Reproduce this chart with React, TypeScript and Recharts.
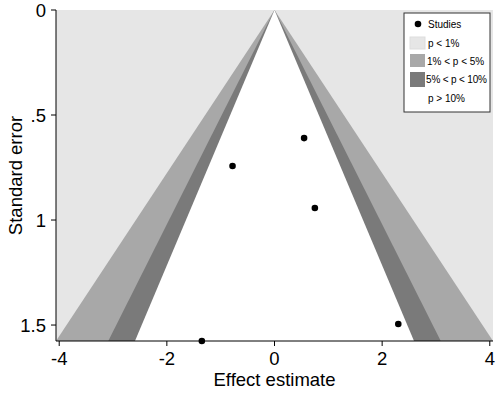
import React from "react";
import { ComposedChart, Area, Scatter, XAxis, YAxis, CartesianGrid, Label } from "recharts";

// Study estimates (effect, standard error)
const studyEffects = [0.55, -0.78, 0.75, 2.3, -1.35];
const studySE = [0.61, 0.743, 0.943, 1.495, 1.576];

// Contour significance levels (two-sided z critical values)
const contourNames = ["p < 1%", "1% < p < 5%", "5% < p < 10%"];
const contourZ = [2.576, 1.96, 1.645];
const contourColors = ["#a8a8a8", "#7a7a7a", "#ffffff"];

const xTicks = [-4, -2, 0, 2, 4];
const yTicks = [0, 0.5, 1, 1.5];
const yTickLabels = ["0", ".5", "1", "1.5"];

const seMax = Math.max(...studySE);
const xLimit = contourZ[0] * seMax;

const studies = studyEffects.map((x, i) => ({ x, se: studySE[i] }));
const funnels = contourZ.map((z) => [
  { x: -z * seMax, band: [seMax, seMax] },
  { x: 0, band: [seMax, 0] },
  { x: z * seMax, band: [seMax, seMax] },
]);

const FONT = "'Liberation Sans', Arial, sans-serif";
const FS = 18.5;

const YTitle = (props: any) => {
  const vb = props.viewBox;
  const cy = vb.y + vb.height / 2;
  const x = 22;
  return (
    <text x={x} y={cy} transform={`rotate(-90, ${x}, ${cy})`} textAnchor="middle" fontSize={FS} fontFamily={FONT} fill="#000">
      Standard error
    </text>
  );
};

export default function App() {
  return (
    <div style={{ position: "absolute", left: 0, top: 0, width: 500, height: 394, background: "#fff" }}>
      <ComposedChart width={500} height={394} margin={{ top: 10, right: 7, bottom: 0, left: 0 }}>
        <CartesianGrid horizontal={false} vertical={false} fill="#e6e6e6" />
        <XAxis
          type="number"
          dataKey="x"
          domain={[-xLimit, xLimit]}
          ticks={xTicks}
          interval={0}
          height={53}
          tickSize={5}
          tickMargin={6}
          stroke="#000"
          tick={{ fill: "#000", fontSize: FS, fontFamily: FONT }}
        >
          <Label value="Effect estimate" position="insideBottom" offset={8} fill="#000" fontSize={FS} fontFamily={FONT} />
        </XAxis>
        <YAxis
          type="number"
          dataKey="se"
          reversed
          domain={[0, seMax]}
          ticks={yTicks}
          interval={0}
          tickFormatter={(v: number) => yTickLabels[yTicks.indexOf(v)] ?? String(v)}
          width={56}
          tickSize={5}
          tickMargin={5}
          stroke="#000"
          tick={{ fill: "#000", fontSize: FS, fontFamily: FONT }}
        >
          <Label content={YTitle} />
        </YAxis>
        {funnels.map((d, i) => (
          <Area
            key={contourNames[i]}
            data={d}
            dataKey="band"
            type="linear"
            stroke="none"
            fill={contourColors[i]}
            fillOpacity={1}
            isAnimationActive={false}
            dot={false}
            activeDot={false}
          />
        ))}
        <Scatter
          data={studies}
          dataKey="se"
          isAnimationActive={false}
          shape={(p: any) => <circle cx={p.cx} cy={p.cy} r={3.3} fill="#000" />}
        />
      </ComposedChart>
      <svg width={88} height={101} style={{ position: "absolute", left: 403, top: 12 }} fontFamily={FONT} fontSize={10}>
        <rect x={1} y={1} width={86} height={99} fill="#fff" stroke="#333" strokeWidth={1} />
        <circle cx={15} cy={12} r={3.3} fill="#000" />
        <text x={25} y={15.5} fill="#000">Studies</text>
        <rect x={7} y={25} width={15} height={12} fill="#e6e6e6" stroke="#ddd" />
        <text x={25} y={34.5} fill="#000">{contourNames[0]}</text>
        <rect x={7} y={42} width={15} height={13} fill={contourColors[0]} />
        <text x={24} y={52.5} fill="#000">{contourNames[1]}</text>
        <rect x={7} y={60} width={15} height={15} fill={contourColors[1]} />
        <text x={23} y={71} fill="#000" textLength={61}>{contourNames[2]}</text>
        <text x={25} y={90} fill="#000">p &gt; 10%</text>
      </svg>
    </div>
  );
}
